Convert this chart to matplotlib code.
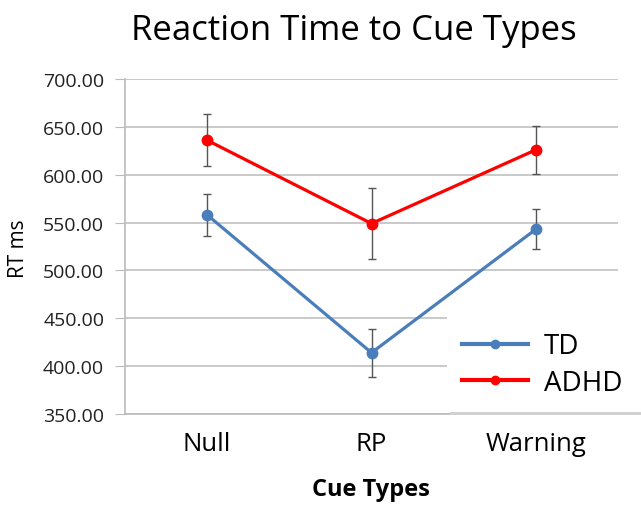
import matplotlib
matplotlib.use("Agg")
import matplotlib.pyplot as plt
from matplotlib.lines import Line2D

categories = ["Null", "RP", "Warning"]
td_vals = [558, 414, 543]
td_err = [22, 25, 21]
adhd_vals = [636, 549, 626]
adhd_err = [27, 37, 25]
yticks = [350, 400, 450, 500, 550, 600, 650, 700]

plt.rcParams['font.family'] = ['Open Sans', 'DejaVu Sans']

td_color = '#4a7ebb'
adhd_color = '#ff0000'

fig = plt.figure(figsize=(6.41, 5.06), dpi=100)
ax = fig.add_axes([125/641, 1-415/506, (618-125)/641, (415-80)/506])

x = list(range(len(categories)))
ax.errorbar(x, td_vals, yerr=td_err, color=td_color, lw=2.3, marker='o', ms=7.5,
            ecolor='#555555', elinewidth=1, capsize=3, capthick=1, zorder=3)
ax.errorbar(x, adhd_vals, yerr=adhd_err, color=adhd_color, lw=2.3, marker='o', ms=7.5,
            ecolor='#555555', elinewidth=1, capsize=3, capthick=1, zorder=3)

ax.set_xlim(-0.5, 2.5)
ax.set_ylim(350, 700)
ax.set_yticks(yticks)
ax.set_yticklabels([f"{v:.2f}" for v in yticks], fontsize=14, color='#222222')
ax.set_xticks(x)
ax.set_xticklabels(categories, fontsize=18.5)
ax.tick_params(axis='x', length=0, pad=12)
ax.tick_params(axis='y', length=7, color='#bbbbbb', pad=8)
ax.grid(axis='y', color='#c0c0c0', lw=1.2)
ax.set_axisbelow(True)
for s in ['top', 'right']:
    ax.spines[s].set_visible(False)
ax.spines['left'].set_color('#bbbbbb')
ax.spines['bottom'].set_color('#bbbbbb')
ax.spines['left'].set_linewidth(1.2)
ax.spines['bottom'].set_linewidth(1.2)

fig.text(354/641, 1-31/506, "Reaction Time to Cue Types", ha='center', va='center', fontsize=25)
fig.text(371/641, 1-490/506, "Cue Types", ha='center', va='center', fontsize=17, fontweight='bold')
fig.text(18/641, 1-249/506, "RT ms", ha='center', va='center', rotation=90, fontsize=15)

handles = [Line2D([], [], color=td_color, lw=3, marker='o', ms=6),
           Line2D([], [], color=adhd_color, lw=3, marker='o', ms=6)]
leg = fig.legend(handles, ['TD', 'ADHD'], loc='upper left',
                 bbox_to_anchor=(447/641, 1-408/506, 210/641, 90/506), mode='expand',
                 fontsize=20, frameon=True, fancybox=False,
                 shadow={'color': '#d0d0d0', 'alpha': 1.0},
                 handlelength=2.35, handletextpad=0.6,
                 borderpad=0.55, labelspacing=0.3, borderaxespad=0, edgecolor='white')
leg.get_frame().set_linewidth(0)

fig.savefig("out.png", dpi=100)
